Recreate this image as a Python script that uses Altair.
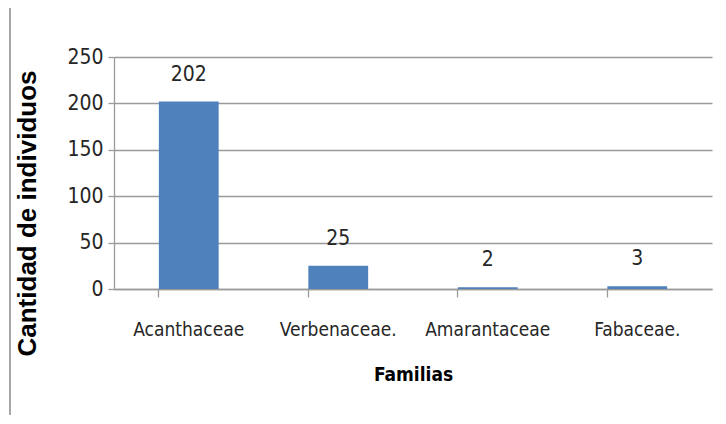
import altair as alt
import pandas as pd

familias = ["Acanthaceae", "Verbenaceae.", "Amarantaceae", "Fabaceae."]
cantidad = [202, 25, 2, 3]
y_ticks = [0, 50, 100, 150, 200, 250]

df = pd.DataFrame({"Familia": familias, "Cantidad": cantidad})

FONT = "DejaVu Sans Condensed, Liberation Sans Narrow, sans-serif"
TXT = "#262626"
GRID = "#9a9a9a"

yscale = alt.Scale(domain=[0, 250], nice=False)
xscale = alt.Scale(paddingInner=0.6, paddingOuter=0.3)

base = alt.Chart(df)

bars = base.mark_bar(color="#4F81BD").encode(
    x=alt.X("Familia:N", sort=familias, scale=xscale,
            axis=alt.Axis(title="Familias", labelAngle=0, labelFont=FONT,
                          labelFontSize=19, labelColor=TXT, labelPadding=23,
                          titleFont=FONT, titleFontSize=19, titleFontWeight="bold",
                          titleColor="#000000", titlePadding=26,
                          domainColor=GRID, domainWidth=1.3,
                          tickColor=GRID, tickSize=8, tickWidth=1.3,
                          bandPosition=0, grid=False)),
    y=alt.Y("Cantidad:Q", scale=yscale,
            axis=alt.Axis(values=y_ticks,
                          title="Cantidad de individuos",
                          labelFont=FONT, labelFontSize=21, labelColor=TXT,
                          labelPadding=5,
                          titleFont="Liberation Sans, Arial, sans-serif",
                          titleFontSize=26, titleFontWeight="bold",
                          titleColor="#000000", titleAngle=-90,
                          titleX=-87, titleY=156, titleAlign="center",
                          titleBaseline="middle",
                          domainColor=GRID, domainWidth=1.3,
                          tickColor=GRID, tickSize=6, tickWidth=1.3,
                          gridColor=GRID, gridWidth=1.3)),
)

labels = base.mark_text(font=FONT, fontSize=21, color=TXT, dy=-27,
                        baseline="middle").encode(
    x=alt.X("Familia:N", sort=familias, scale=xscale),
    y=alt.Y("Cantidad:Q", scale=yscale),
    text="Cantidad:Q",
)

border = base.mark_rule(color="#a6a6a6", strokeWidth=1.5).encode(
    x=alt.value(-104), y=alt.value(-57), y2=alt.value(358)
)

chart = alt.layer(bars, labels, border).properties(
    width=598, height=232,
    padding={"left": 106, "top": 49, "right": 2, "bottom": 126},
    autosize=alt.AutoSizeParams(type="none"),
    background="white",
).configure_view(stroke="transparent", strokeWidth=0)

chart.save("out.html", embed_options={"renderer": "svg", "actions": False})
